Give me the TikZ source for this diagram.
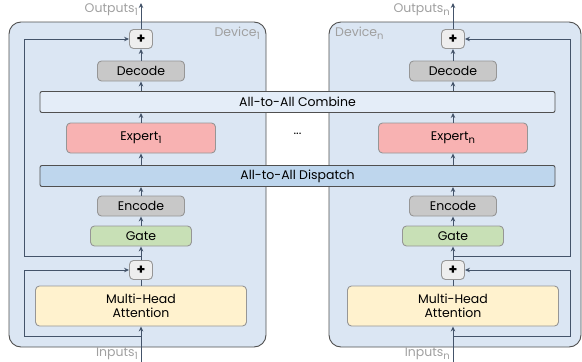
\documentclass[tikz,border=0pt]{standalone}
\usepackage{fontspec}
\setmainfont{Poppins}
\usetikzlibrary{arrows.meta}
\usetikzlibrary{positioning}

\definecolor{devbg}{RGB}{219,230,243}
\definecolor{devline}{RGB}{80,80,80}
\definecolor{combfill}{RGB}{228,237,248}
\definecolor{dispfill}{RGB}{190,214,237}
\definecolor{expfill}{RGB}{248,178,178}
\definecolor{gatefill}{RGB}{200,224,182}
\definecolor{mhafill}{RGB}{255,242,206}
\definecolor{codefill}{RGB}{200,200,200}
\definecolor{plusfill}{RGB}{238,238,238}
\definecolor{boxline}{RGB}{150,150,150}
\definecolor{flow}{RGB}{68,84,106}
\definecolor{labelgray}{RGB}{160,160,160}

\newcommand{\idx}[1]{\raisebox{-0.4ex}{\fontsize{10}{10}\selectfont #1}}

\begin{document}
\begin{tikzpicture}[x=1pt, y=-1pt, font=\fontsize{12.5}{14}\selectfont,
    box/.style={draw=boxline, line width=0.9pt, rounded corners=4pt, inner sep=0pt, minimum height=20pt},
    plusbox/.style={box, fill=plusfill, minimum width=23pt, minimum height=19pt, font=\fontsize{14}{14}\selectfont\bfseries},
    bar/.style={draw=devline, line width=0.9pt, rounded corners=2pt, inner sep=0pt, minimum width=515pt, minimum height=21pt},
    flowarrow/.style={draw=flow, line width=0.9pt, -{Stealth[length=5pt, width=4.5pt]}},
    flowline/.style={draw=flow, line width=0.9pt},
    iolabel/.style={text=labelgray, inner sep=1pt},
  ]
    \useasboundingbox (0,0) rectangle (582,362);

    \draw[fill=devbg, draw=devline, line width=0.9pt, rounded corners=12pt] (9,22) rectangle (266,347);
    \draw[fill=devbg, draw=devline, line width=0.9pt, rounded corners=12pt] (329,22) rectangle (581,347);
    \node[iolabel, anchor=north east] (dev1) at (261,26) {Device\idx{1}};
    \node[iolabel, anchor=north west] (devn) at (334,26) {Device\idx{n}};

    \node[bar, fill=combfill] (combine) at (297.5,102) {All-to-All Combine};
    \node[bar, fill=dispfill] (dispatch) at (297.5,176) {All-to-All Dispatch};
    \node (dots) at (297.5,134) {...};

    \foreach \d/\cx/\rx in {1/141/24, n/453/570} {
        \node[plusbox] (plusout\d) at (\cx,39) {+};
        \node[box, fill=codefill, minimum width=87pt] (decode\d) at (\cx,71) {Decode};
        \node[box, fill=expfill, minimum width=149pt, minimum height=30pt] (expert\d) at (\cx,138) {Expert\idx{\d}};
        \node[box, fill=codefill, minimum width=87pt] (encode\d) at (\cx,206) {Encode};
        \node[box, fill=gatefill, minimum width=101pt] (gate\d) at (\cx,236) {Gate};
        \node[plusbox] (plusin\d) at (\cx,270) {+};
        \node[box, fill=mhafill, minimum width=211pt, minimum height=40pt, align=center] (mha\d) at (\cx,306) {Multi-Head\\Attention};

        \coordinate (in\d) at (\cx,362);
        \coordinate (out\d) at (\cx,3);
        \coordinate (skipa\d) at (\cx,336);
        \coordinate (skipb\d) at (\cx,256);
        \node[iolabel, anchor=east] (inlabel\d) at (\cx-2,354) {Inputs\idx{\d}};
        \node[iolabel, anchor=east] (outlabel\d) at (\cx-2,10) {Outputs\idx{\d}};

        \draw[flowarrow] (in\d) -- (mha\d);
        \draw[flowline] (mha\d) -- (plusin\d);
        \draw[flowarrow] (plusin\d) -- (gate\d);
        \draw[flowarrow] (gate\d) -- (encode\d);
        \draw[flowarrow] (encode\d) -- (encode\d |- dispatch.south);
        \draw[flowarrow] (expert\d |- dispatch.north) -- (expert\d);
        \draw[flowarrow] (expert\d) -- (expert\d |- combine.south);
        \draw[flowarrow] (decode\d |- combine.north) -- (decode\d);
        \draw[flowarrow] (decode\d) -- (plusout\d);
        \draw[flowarrow] (plusout\d) -- (out\d);

        \draw[flowarrow] (skipa\d) -- (\rx,336) |- (plusin\d);
        \draw[flowarrow] (skipb\d) -- (\rx,256) |- (plusout\d);
    }
\end{tikzpicture}
\end{document}
